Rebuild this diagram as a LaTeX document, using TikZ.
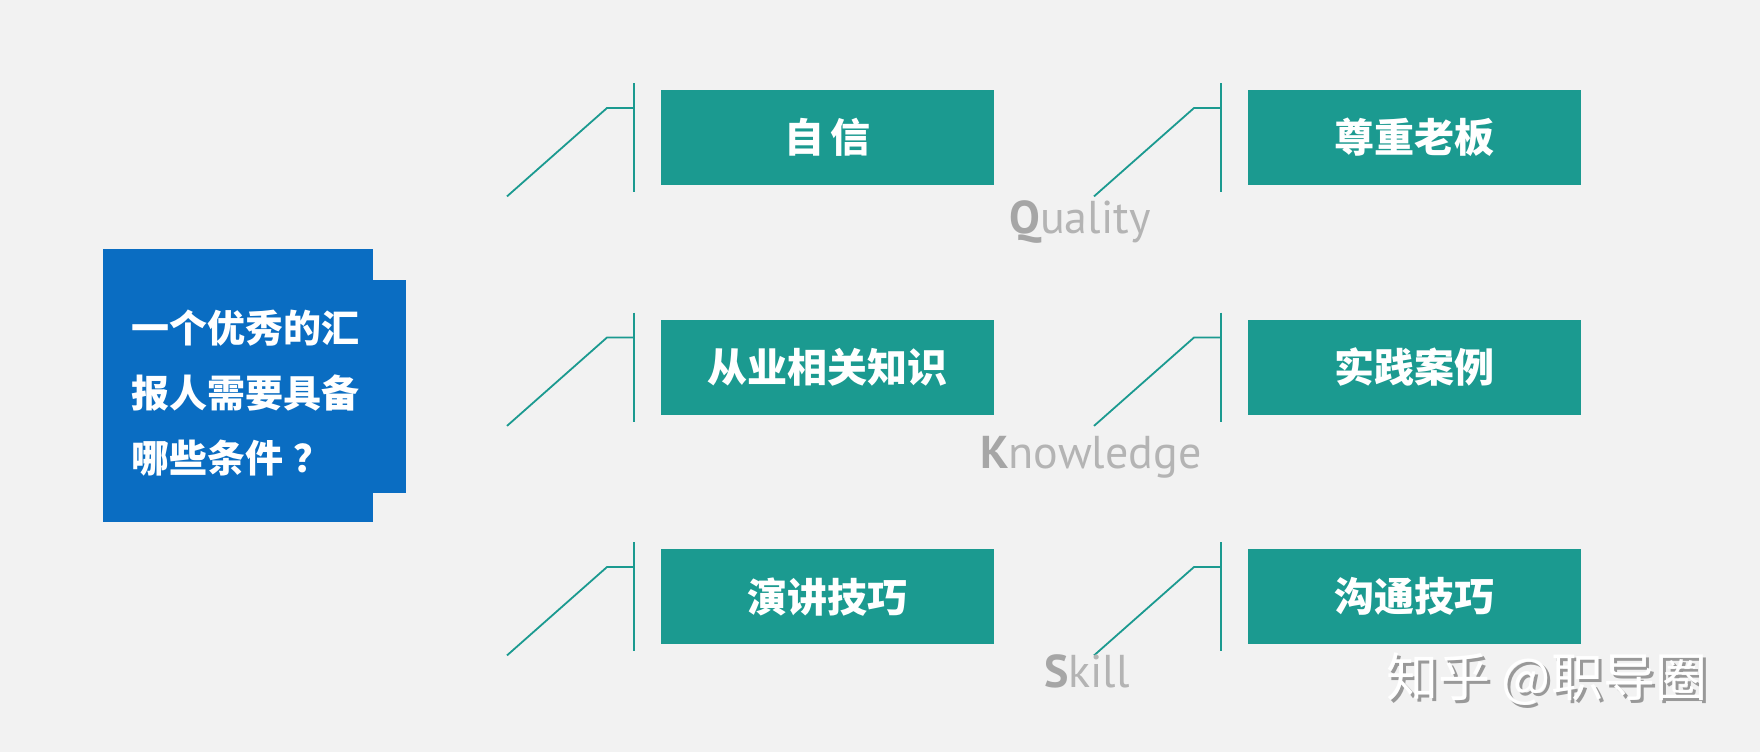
\documentclass[tikz,border=0pt]{standalone}
\usepackage{fontspec}
\newfontfamily\cjk{Noto Sans CJK SC}
\newfontfamily\lat{PT Sans}
\definecolor{bg}{HTML}{F2F2F2}
\definecolor{tealc}{HTML}{1B9A90}
\definecolor{bluec}{HTML}{0A6DC2}
\definecolor{gdark}{HTML}{A6A6A6}
\definecolor{glight}{HTML}{B4B4B4}
\tikzset{
  itembox/.style={fill=tealc, anchor=north west, minimum width=333pt, minimum height=95pt, inner sep=0pt,
    text=white, font=\cjk\bfseries\fontsize{40}{44}\selectfont},
  tline/.style={draw=tealc, line width=1.8pt},
  lbl/.style={anchor=base west, inner sep=0pt, font=\lat\fontsize{46}{50}\selectfont, text=glight},
}
\newcommand{\conn}[1]{%
  \draw[tline] ([xshift=-27pt,yshift=7pt]#1.north west) -- ([xshift=-27pt,yshift=-7pt]#1.south west);
  \draw[tline] ([xshift=-27pt,yshift=-18pt]#1.north west) -- ([xshift=-54pt,yshift=-18pt]#1.north west)
     -- ([xshift=-154pt,yshift=-11pt]#1.south west);
}
\begin{document}
\begin{tikzpicture}[x=1pt,y=-1pt]
\useasboundingbox[fill=bg] (0,0) rectangle (1760,752);
% question box
\fill[bluec] (103,249) rectangle (373,522);
\fill[bluec] (372,280) rectangle (406,493);
\node[anchor=west, align=left, inner sep=0pt, text=white, font=\cjk\bfseries\fontsize{38}{65}\selectfont] (q) at (131,393)
  {一个优秀的汇\\报人需要具备\\哪些条件\hspace{10pt}？};
% items
\node[itembox] (a1) at (661,90) {自\hspace{6pt}信};
\node[itembox] (a2) at (661,319.5) {从业相关知识};
\node[itembox] (a3) at (661,549) {演讲技巧};
\node[itembox] (b1) at (1248,90) {尊重老板};
\node[itembox] (b2) at (1248,319.5) {实践案例};
\node[itembox] (b3) at (1248,549) {沟通技巧};
\conn{a1}\conn{a2}\conn{a3}\conn{b1}\conn{b2}\conn{b3}
% labels
\node[lbl] (lq) at (1009,233) {\textcolor{gdark}{\bfseries Q}uality};
\node[lbl] (lk) at (980,468) {\textcolor{gdark}{\bfseries K}nowledge};
\node[lbl] (ls) at (1044,687) {\textcolor{gdark}{\bfseries S}kill};
% watermark
\node[anchor=west, inner sep=0pt, text=gray!80, font=\cjk\fontsize{52}{56}\selectfont] at (1389,682) {知乎 @职导圈};
\node[anchor=west, inner sep=0pt, text=white, font=\cjk\fontsize{52}{56}\selectfont] (wm) at (1386,679) {知乎 @职导圈};
\end{tikzpicture}
\end{document}
